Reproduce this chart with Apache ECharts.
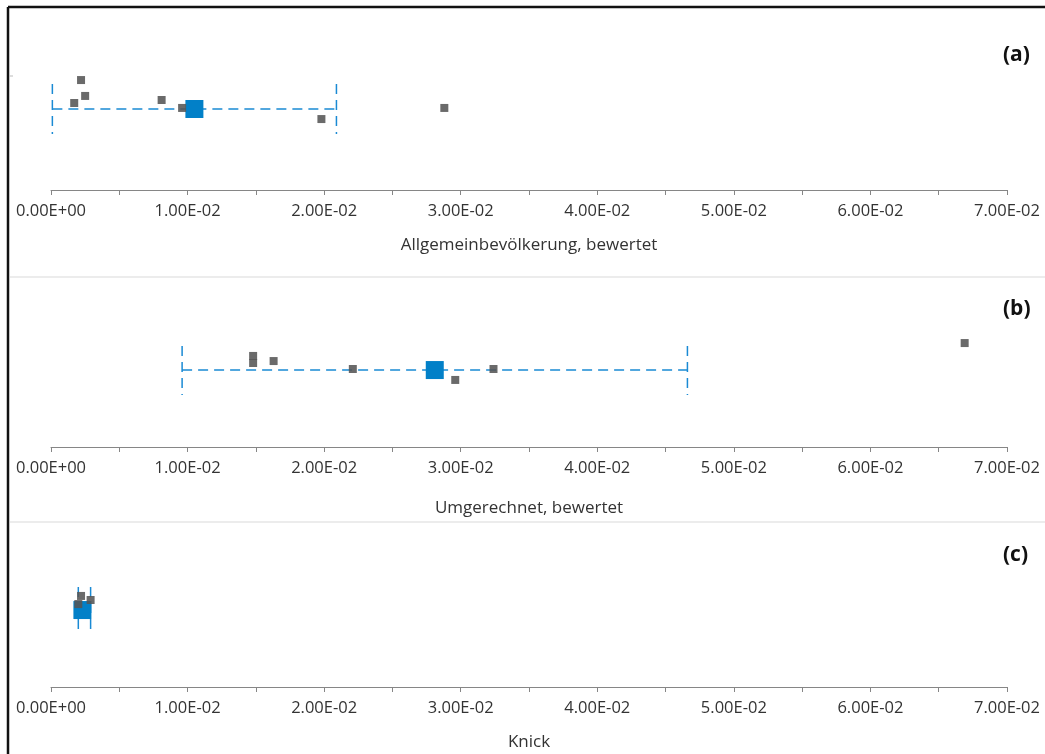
<!DOCTYPE html>
<html>
<head>
<meta charset="utf-8">
<script src="https://cdn.jsdelivr.net/npm/echarts@6/dist/echarts.min.js"></script>
<style>
  html, body { margin:0; padding:0; background:#fff; }
  #chart { width:1045px; height:754px; }
</style>
</head>
<body>
<div id="chart"></div>
<script>
// axis
const xMin = 0;
const xMax = 0.07;
const xStep = 0.01;

const axisNames = ['Allgemeinbevölkerung, bewertet', 'Umgerechnet, bewertet', 'Knick'];
const panelTags = ['(a)', '(b)', '(c)'];

// (a) single values: x = value, y = vertical jitter position (0..10)
const aX = [0.0022, 0.0025, 0.0017, 0.0081, 0.0096, 0.0198, 0.0288];
const aY = [7.33, 6.27, 5.8, 6.0, 5.47, 4.73, 5.47];
const aMean = [0.0105, 5.4];
const aRange = [0.0001, 0.0209];
const aCap = [7.07, 3.73];

// (b)
const bX = [0.0148, 0.0148, 0.0163, 0.0221, 0.0296, 0.0324, 0.0669];
const bY = [6.07, 5.6, 5.73, 5.2, 4.47, 5.2, 6.93];
const bMean = [0.0281, 5.13];
const bRange = [0.0096, 0.0466];
const bCap = [6.73, 3.47];

// (c)
const cX = [0.0022, 0.0020, 0.0029];
const cY = [6.07, 5.53, 5.8];
const cMean = [0.0023, 5.13];
const cRange = [0.0020, 0.0029];
const cCap = [6.67, 3.47];

const panels = [
  {x: aX, y: aY, mean: aMean, range: aRange, cap: aCap},
  {x: bX, y: bY, mean: bMean, range: bRange, cap: bCap},
  {x: cX, y: cY, mean: cMean, range: cRange, cap: cCap}
];

const gridBottoms = [190, 447, 687];
const nameGaps = [47, 53, 47];
const gridHeight = 150;
const H = 754;

function sciLabel(v) {
  if (Math.abs(v) < 1e-12) return '0.00E+00';
  let e = Math.floor(Math.log10(Math.abs(v)));
  let m = v / Math.pow(10, e);
  if (Math.round(m * 100) / 100 >= 10) { m = m / 10; e += 1; }
  const sign = e < 0 ? '-' : '+';
  const ee = String(Math.abs(e)).padStart(2, '0');
  return m.toFixed(2) + 'E' + sign + ee;
}

const blue = '#0280c8';
const gray = 'rgba(85,85,85,0.88)';
const font = '"Open Sans", "Liberation Sans", sans-serif';

const grids = [], xAxes = [], yAxes = [], series = [];

panels.forEach((p, i) => {
  grids.push({
    left: 51, right: 38,
    top: gridBottoms[i] - gridHeight,
    bottom: H - gridBottoms[i]
  });
  xAxes.push({
    gridIndex: i, type: 'value', min: xMin, max: xMax, interval: xStep,
    name: axisNames[i], nameLocation: 'middle', nameGap: nameGaps[i],
    nameTextStyle: {color: '#333', fontSize: 17, fontFamily: font},
    axisLine: {lineStyle: {color: '#868686', width: 1}},
    axisTick: {show: true, length: 5, lineStyle: {color: '#868686'}},
    minorTick: {show: true, splitNumber: 2, length: 5, lineStyle: {color: '#868686'}},
    splitLine: {show: false},
    axisLabel: {color: '#333', fontSize: 16.5, fontFamily: font, margin: 13,
      formatter: sciLabel}
  });
  yAxes.push({gridIndex: i, type: 'value', min: 0, max: 10, show: false});

  series.push({
    type: 'custom', xAxisIndex: i, yAxisIndex: i, z: 2,
    data: [[p.range[0], p.range[1], p.mean[1], p.cap[0], p.cap[1]]],
    encode: {x: [0, 1], y: [2, 3, 4]},
    renderItem: function (params, api) {
      const lo = api.coord([api.value(0), api.value(2)]);
      const hi = api.coord([api.value(1), api.value(2)]);
      const t = api.coord([api.value(0), api.value(3)])[1];
      const b = api.coord([api.value(0), api.value(4)])[1];
      const st = {stroke: '#1a8ad4', lineWidth: 1.5, lineDash: [10, 6], fill: null};
      return {type: 'group', children: [
        {type: 'line', shape: {x1: lo[0], y1: lo[1], x2: hi[0], y2: hi[1]}, style: st},
        {type: 'line', shape: {x1: lo[0], y1: t, x2: lo[0], y2: b}, style: st},
        {type: 'line', shape: {x1: hi[0], y1: t, x2: hi[0], y2: b}, style: st}
      ]};
    }
  });
  series.push({
    type: 'scatter', xAxisIndex: i, yAxisIndex: i, z: 3,
    symbol: 'rect', symbolSize: 18,
    itemStyle: {color: blue, opacity: 1},
    data: [p.mean]
  });
  series.push({
    type: 'scatter', xAxisIndex: i, yAxisIndex: i, z: 4,
    symbol: 'rect', symbolSize: 8,
    itemStyle: {color: gray, opacity: 1},
    data: p.x.map((v, k) => [v, p.y[k]])
  });
});

const chart = echarts.init(document.getElementById('chart'), null, {renderer: 'canvas'});
chart.setOption({
  backgroundColor: '#fff',
  animation: false,
  grid: grids,
  xAxis: xAxes,
  yAxis: yAxes,
  series: series,
  graphic: [
    {type: 'line', shape: {x1: 8, y1: 7, x2: 8, y2: 754}, style: {stroke: '#111', lineWidth: 2.5}},
    {type: 'line', shape: {x1: 8, y1: 7, x2: 1045, y2: 7}, style: {stroke: '#111', lineWidth: 2.5}},
    {type: 'line', shape: {x1: 10, y1: 277, x2: 1045, y2: 277}, style: {stroke: '#ececec', lineWidth: 2}},
    {type: 'line', shape: {x1: 10, y1: 522, x2: 1045, y2: 522}, style: {stroke: '#ececec', lineWidth: 2}},
    {type: 'line', shape: {x1: 9, y1: 76, x2: 13, y2: 76}, style: {stroke: '#bbb', lineWidth: 1}},
    {type: 'text', left: 1003, top: 45, style: {text: panelTags[0], font: 'bold 21px ' + font, fill: '#111'}},
    {type: 'text', left: 1003, top: 299, style: {text: panelTags[1], font: 'bold 21px ' + font, fill: '#111'}},
    {type: 'text', left: 1003, top: 545, style: {text: panelTags[2], font: 'bold 21px ' + font, fill: '#111'}}
  ]
});
</script>
</body>
</html>
